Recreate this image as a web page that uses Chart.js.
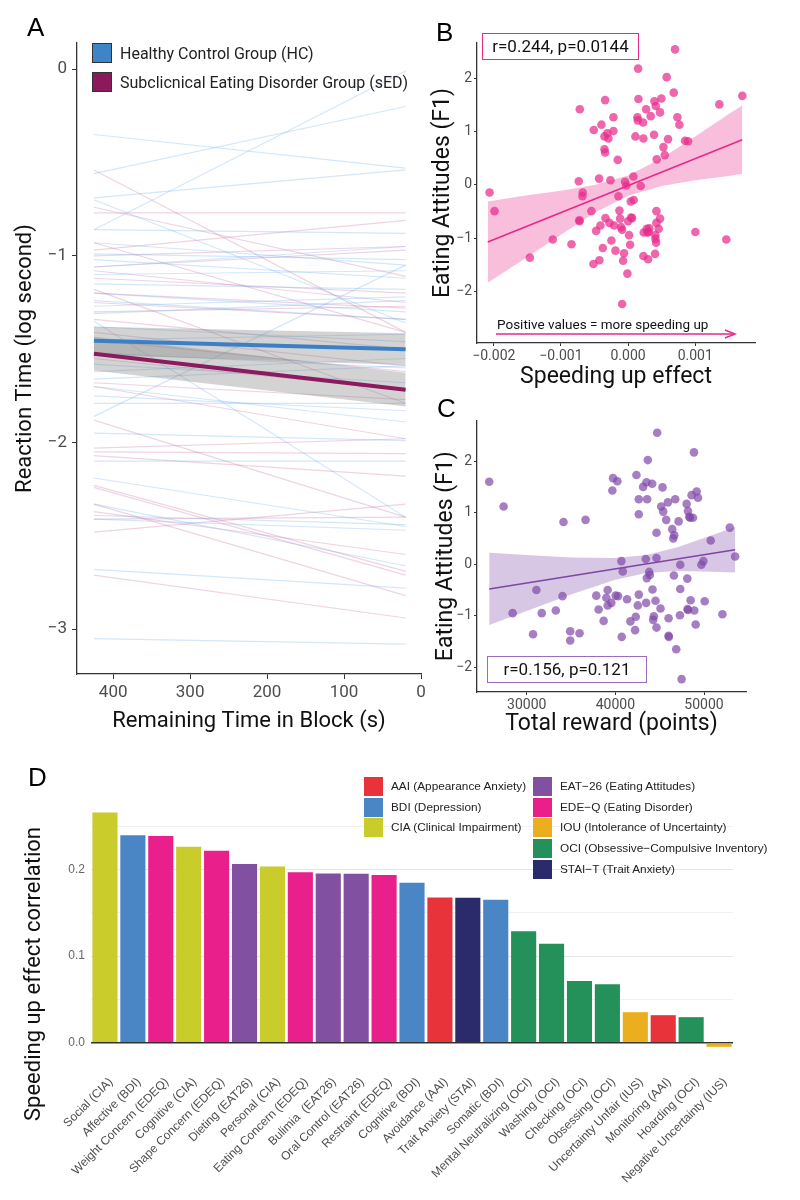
<!DOCTYPE html>
<html>
<head>
<meta charset="utf-8">
<script src="https://cdn.jsdelivr.net/npm/chart.js@4.4.1/dist/chart.umd.min.js"></script>
<style>
    body { margin: 0; background: #fff; width: 800px; height: 1200px; position: relative; overflow: hidden; font-family: Roboto, sans-serif; }
    canvas { position: absolute; }
    .panel { position: absolute; font-family: "Liberation Sans", Arial, sans-serif; font-size: 26px; color: #000; }
    .legA { position: absolute; left: 92px; font-size: 16px; color: #222; }
    .legA span { display: inline-block; width: 18px; height: 18px; border: 1px solid #333; vertical-align: -4px; margin-right: 8px; }
    .statbox { position: absolute; font-size: 17px; color: #111; text-align: center; line-height: 24px; box-sizing: border-box; }
    .legD { position: absolute; font-family: "Liberation Sans", Arial, sans-serif; font-size: 11.8px; color: #222; line-height: 19px; }
    .legD span { display: inline-block; width: 19px; height: 19px; vertical-align: top; margin-right: 8px; }
    .ytitle { position: absolute; font-size: 22px; color: #111; white-space: nowrap; transform: translate(-50%, -50%) rotate(-90deg); }
</style>
</head>
<body>
<canvas id="chartA" width="440" height="745" style="left:0;top:0"></canvas>
<canvas id="chartB" width="380" height="400" style="left:420px;top:0"></canvas>
<canvas id="chartC" width="380" height="330" style="left:420px;top:410px"></canvas>
<canvas id="chartD" width="800" height="440" style="left:0;top:760px"></canvas>

<div class="panel" style="left:27px;top:12px">A</div>
<div class="panel" style="left:436px;top:17px">B</div>
<div class="panel" style="left:437px;top:393px">C</div>
<div class="panel" style="left:28px;top:762px">D</div>

<div class="legA" style="top:43px"><span style="background:#3d85c6"></span>Healthy Control Group (HC)</div>
<div class="legA" style="top:72px"><span style="background:#8b1a5c"></span>Subclicnical Eating Disorder Group (sED)</div>

<div class="statbox" style="left:482px;top:33px;width:157px;height:27px;border:1.5px solid #e7298a">r=0.244, p=0.0144</div>
<div style="position:absolute;left:497px;top:316px;font-size:13.5px;color:#111">Positive values = more speeding up</div>
<svg style="position:absolute;left:494px;top:328px" width="246" height="12">
    <line x1="2" y1="6" x2="240" y2="6" stroke="#e7298a" stroke-width="1.5"/>
    <polyline points="231,2 241,6 231,10" fill="none" stroke="#e7298a" stroke-width="1.5"/>
</svg>
<div class="statbox" style="left:487px;top:656px;width:160px;height:27px;border:1.5px solid #9c6bbf">r=0.156, p=0.121</div>

<div class="ytitle" style="left:32px;top:974px">Speeding up effect correlation</div>
<div id="legendD"></div>

<script>
// ---------- Panel A: individual slopes (start at 425 s, end at 20 s) ----------
const lineX = [425, 20];
const hcStart = [-0.35, -0.86, -0.56, -0.69, -0.70, -0.86, -0.99, -1.06, -1.15, -1.24, -1.31, -1.66,
    -0.93, -1.02, -1.10, -1.20, -1.27, -1.38, -1.45, -1.52, -1.58, -1.62, -1.75,
    -1.86, -1.95, -2.10, -1.35, -2.19, -2.41, -2.39, -2.68, -3.05, -1.70, -1.79, -2.33];
const hcEnd = [-0.53, -0.01, -0.20, -0.54, -1.36, -0.88, -1.02, -0.95, -1.18, -1.34, -1.24, -1.59,
    -1.05, -1.12, -1.08, -1.30, -1.22, -1.46, -1.42, -1.60, -1.68, -1.55, -1.83,
    -1.05, -1.99, -2.10, -2.40, -2.45, -2.47, -2.44, -2.78, -3.08, -1.89, -1.79, -2.66];
const sedStart = [-0.54, -0.74, -0.77, -0.93, -0.97, -1.06, -1.12, -1.20, -1.25, -1.34, -1.68, -1.41, -1.18,
    -1.00, -1.08, -1.30, -1.45, -1.55,
    -1.88, -2.03, -2.05, -2.07, -2.23, -2.24, -2.33, -2.37, -2.48, -2.71, -2.41, -1.70];
const sedEnd = [-1.41, -1.11, -0.77, -1.41, -0.81, -0.97, -1.20, -1.28, -1.34, -1.50, -1.77, -1.59, -1.79,
    -0.95, -1.25, -1.27, -1.62, -1.72,
    -2.40, -1.98, -2.06, -2.18, -2.69, -2.71, -2.82, -2.60, -2.33, -2.94, -2.40, -1.98];

// group means and confidence bands [start, end]
const hcMean = [-1.455, -1.50];
const hcUpper = [-1.38, -1.415];
const hcLower = [-1.53, -1.585];
const sedMean = [-1.524, -1.717];
const sedUpper = [-1.434, -1.627];
const sedLower = [-1.614, -1.807];

const aTicksX = [0, 100, 200, 300, 400];
const aTicksY = [-3, -2, -1, 0];

// ---------- Panel B: speeding up effect vs eating attitudes ----------
const speedX = [-0.002063, -0.001989, -0.001463, -0.001121, -0.000843, -0.000734, -0.000719, -0.000675, -0.000680, -0.000724,
    -0.000724, -0.000546, -0.000511, -0.000516, -0.000476, -0.000427, -0.000432, -0.000412, -0.000397, -0.000377,
    -0.000342, -0.000352, -0.000352, -0.000342, -0.000337, -0.000308, -0.000293, -0.000278, -0.000263, -0.000248,
    -0.000218, -0.000218, -0.000208, -0.000188, -0.000154, -0.000144, -0.000129, -0.000119, -0.000104, -0.000089,
    -0.000089, -0.000074, -0.000060, -0.000045, -0.000025, -0.000010, 0.000000, 0.000015, 0.000030, 0.000040,
    0.000045, 0.000060, 0.000079, 0.000084, 0.000109, 0.000139, 0.000144, 0.000149, 0.000154, 0.000188,
    0.000223, 0.000228, 0.000233, 0.000228, 0.000268, 0.000278, 0.000288, 0.000298, 0.000308, 0.000317,
    0.000337, 0.000387, 0.000392, 0.000407, 0.000407, 0.000402, 0.000412, 0.000417, 0.000422, 0.000422,
    0.000427, 0.000456, 0.000476, 0.000476, 0.000496, 0.000526, 0.000546, 0.000575, 0.000595, 0.000680,
    0.000699, 0.000734, 0.000764, 0.000848, 0.000893, 0.001002, 0.001359, 0.001463, 0.001701];
const eatB = [-0.14, -0.49, -1.36, -1.02, -1.11, 0.07, 1.42, -0.14, -0.21, -0.66,
    -0.68, -0.49, 1.03, -1.48, -0.86, -1.41, 0.12, -0.76, 1.13, -1.18,
    1.59, 0.91, 0.67, 0.61, -0.62, 0.97, 0.87, -0.71, 0.09, -1.04,
    1.27, 1.01, -0.76, -1.23, 0.47, -0.21, -0.48, -0.63, -0.79, -0.84,
    -2.23, -1.42, -1.28, 0.06, -0.01, -1.66, -0.68, -0.94, -1.12, -0.31,
    -0.61, -0.62, 0.16, -0.28, 0.91, 1.27, 1.21, 2.18, 1.61, -0.02,
    1.17, 0.87, -0.89, -1.33, 1.42, -0.82, -0.89, -1.39, -0.88, -0.81,
    1.29, 0.94, 1.57, -0.94, -1.01, -1.29, 1.48, -1.08, -0.49, -0.71,
    0.48, -0.82, 1.36, -0.63, 1.62, 0.71, 0.56, 2.02, 0.86, 1.73,
    2.54, 1.27, 1.13, 0.83, 0.82, -0.88, 1.51, -1.02, 1.67];
const fitBX = [-0.00209, 0.0017];
const fitBY = [-1.066, 0.849];
const bandBX = [-0.00209, -0.0015, -0.001, -0.0005, 0, 0.0005, 0.001, 0.0015, 0.0017];
const bandBUpper = [-0.31, -0.19, -0.11, 0.00, 0.18, 0.50, 0.91, 1.33, 1.49];
const bandBLower = [-1.83, -1.35, -0.93, -0.52, -0.20, -0.02, 0.09, 0.17, 0.21];
const bTicksX = [-0.002, -0.001, 0, 0.001];
const bTicksY = [-2, -1, 0, 1, 2];

// ---------- Panel C: total reward vs eating attitudes ----------
const rewardX = [25773, 27396, 28415, 30717, 31094, 31698, 33283, 34038, 34151, 34906,
    34906, 35963, 36642, 37850, 38114, 38680, 39133, 38982, 39133, 39548,
    39661, 39737, 40038, 40227, 40302, 40680, 40718, 40831, 41322, 41699,
    42228, 42303, 42379, 42530, 42643, 42643, 42643, 43134, 43435, 43473,
    43511, 43548, 43586, 43662, 43813, 43888, 44152, 44190, 44265, 44341,
    44530, 44643, 44643, 44643, 44718, 45096, 45171, 45322, 45398, 45737,
    45926, 46002, 46002, 46039, 46417, 46530, 46643, 46606, 46756, 46869,
    47134, 47285, 47322, 47322, 48039, 48115, 48153, 48190, 48190, 48341,
    48417, 48492, 48605, 48756, 48870, 48907, 49058, 49172, 49323, 49700,
    49926, 50077, 50757, 52078, 52908, 53512, 47473];
const eatC = [1.60, 1.12, -0.95, -1.36, -0.50, -0.95, -0.90, -0.62, 0.82, -1.30,
    -1.48, -1.34, 0.86, -0.61, -0.88, -1.10, -0.50, -0.65, -0.80, -0.75,
    1.43, 1.67, -0.61, 1.61, -0.62, 0.06, -1.41, -0.14, -0.68, -1.11,
    -1.28, -1.02, 1.73, -0.80, -0.59, 0.97, 1.26, 1.50, 0.10, -0.75,
    1.59, -0.27, 1.26, 2.02, -0.15, -0.21, 1.56, -0.49, -1.08, -1.01,
    -0.71, 0.12, -1.23, 0.61, 2.55, -0.86, 1.12, 1.49, 1.02, 0.86,
    1.20, -1.05, -1.39, -1.41, 0.68, 0.50, 0.56, -0.22, 1.26, -1.65,
    0.83, -0.99, -0.01, -0.48, 1.17, -0.28, -0.87, -0.89, 1.03, 0.92,
    0.90, -0.70, 1.34, 0.90, 2.17, -0.90, -1.17, 1.41, 1.29, -0.01,
    0.06, -0.72, 0.46, -0.97, 0.71, 0.15, -2.23];
const fitCX = [25773, 53512];
const fitCY = [-0.48, 0.28];
const bandCX = [25773, 30000, 35000, 40000, 43500, 47000, 50000, 53512];
const bandCUpper = [0.22, 0.18, 0.13, 0.12, 0.18, 0.33, 0.51, 0.72];
const bandCLower = [-1.18, -0.91, -0.59, -0.30, -0.17, -0.13, -0.14, -0.16];
const cTicksX = [30000, 40000, 50000];
const cTicksY = [-2, -1, 0, 1, 2];

// ---------- Panel D: correlations per subscale ----------
const dLabels = ['Social (CIA)', 'Affective (BDI)', 'Weight Concern (EDEQ)', 'Cognitive (CIA)', 'Shape Concern (EDEQ)',
    'Dieting (EAT26)', 'Personal (CIA)', 'Eating Concern (EDEQ)', 'Bulimia  (EAT26)', 'Oral Control (EAT26)',
    'Restraint (EDEQ)', 'Cognitive (BDI)', 'Avoidance (AAI)', 'Trait Anxiety (STAI)', 'Somatic (BDI)',
    'Mental Neutralizing (OCI)', 'Washing (OCI)', 'Checking (OCI)', 'Obsessing (OCI)', 'Uncertainty Unfair (IUS)',
    'Monitoring (AAI)', 'Hoarding (OCI)', 'Negative Uncertainty (IUS)'];
const dValues = [0.2658, 0.2396, 0.2385, 0.2262, 0.2215, 0.2062, 0.2035, 0.1969, 0.1954, 0.1950,
    0.1935, 0.1846, 0.1677, 0.1673, 0.1650, 0.1288, 0.1142, 0.0712, 0.0677, 0.0354,
    0.0319, 0.0296, -0.0046];
const dGroups = ['CIA', 'BDI', 'EDEQ', 'CIA', 'EDEQ', 'EAT26', 'CIA', 'EDEQ', 'EAT26', 'EAT26',
    'EDEQ', 'BDI', 'AAI', 'STAI', 'BDI', 'OCI', 'OCI', 'OCI', 'OCI', 'IUS',
    'AAI', 'OCI', 'IUS'];
const dTicksY = [0, 0.05, 0.1, 0.15, 0.2, 0.25];
const legendNames = ['AAI (Appearance Anxiety)', 'BDI (Depression)', 'CIA (Clinical Impairment)',
    'EAT\u221226 (Eating Attitudes)', 'EDE\u2212Q (Eating Disorder)', 'IOU (Intolerance of Uncertainty)',
    'OCI (Obsessive\u2212Compulsive Inventory)', 'STAI\u2212T (Trait Anxiety)'];
const legendKeys = ['AAI', 'BDI', 'CIA', 'EAT26', 'EDEQ', 'IUS', 'OCI', 'STAI'];

const groupColors = {
    AAI: '#e8333b', BDI: '#4a86c6', CIA: '#c9cc2b', EAT26: '#8250a0',
    EDEQ: '#e91f8c', IUS: '#ebae1e', OCI: '#24905a', STAI: '#2b2a6b'
};

Chart.defaults.font.family = 'Roboto, sans-serif';
Chart.defaults.animation = false;
Chart.defaults.events = [];
Chart.defaults.plugins.legend.display = false;
Chart.defaults.plugins.tooltip.enabled = false;

// Replace hyphen with a proper minus sign
function minus(s) {
    return String(s).replace('-', '\u2212');
}

function setTicks(values) {
    return scale => { scale.ticks = values.map(v => ({ value: v })); };
}

function pts(xs, ys) {
    return xs.map((x, i) => ({ x, y: ys[i] }));
}

// Classic ggplot-like axis (line + short outside ticks)
function classicAxis(extra, tickSize, tickLen, pad) {
    return Object.assign({
        type: 'linear',
        grid: { drawOnChartArea: false, color: '#333', tickLength: tickLen },
        border: { color: '#333', width: 1.3 },
        ticks: { color: '#4d4d4d', font: { size: tickSize }, padding: pad, callback: v => minus(v) }
    }, extra);
}

function drawPanelA() {
    const datasets = [];
    datasets.push({ data: pts(lineX, hcMean), borderColor: '#3b80c6', borderWidth: 4, order: 0 });
    datasets.push({ data: pts(lineX, sedMean), borderColor: '#8b1a5e', borderWidth: 4, order: 0 });
    datasets.push({ data: pts(lineX, hcUpper), borderColor: 'transparent', fill: '+1', backgroundColor: 'rgba(130,130,130,0.35)', order: 1 });
    datasets.push({ data: pts(lineX, hcLower), borderColor: 'transparent', order: 1 });
    datasets.push({ data: pts(lineX, sedUpper), borderColor: 'transparent', fill: '+1', backgroundColor: 'rgba(130,130,130,0.35)', order: 1 });
    datasets.push({ data: pts(lineX, sedLower), borderColor: 'transparent', order: 1 });
    hcStart.forEach((s, i) => {
        datasets.push({ data: pts(lineX, [s, hcEnd[i]]), borderColor: 'rgba(110,175,235,0.3)', borderWidth: 1.2, order: 2 });
    });
    sedStart.forEach((s, i) => {
        datasets.push({ data: pts(lineX, [s, sedEnd[i]]), borderColor: 'rgba(195,100,155,0.28)', borderWidth: 1.2, order: 2 });
    });

    new Chart(document.getElementById('chartA'), {
        type: 'line',
        data: { datasets },
        options: {
            responsive: false,
            elements: { point: { radius: 0 } },
            layout: { padding: { left: 0, top: 43, right: 19, bottom: 0 } },
            scales: {
                x: classicAxis({
                    reverse: true, min: 0, max: 447,
                    afterBuildTicks: setTicks(aTicksX),
                    afterFit: s => { s.height = 71; },
                    title: { display: true, text: 'Remaining Time in Block (s)', color: '#111', font: { size: 22 }, padding: { top: 0, bottom: 10 } }
                }, 17, 5, 4),
                y: classicAxis({
                    min: -3.24, max: 0.14,
                    afterBuildTicks: setTicks(aTicksY),
                    afterFit: s => { s.width = 77; },
                    title: { display: true, text: 'Reaction Time (log second)', color: '#111', font: { size: 22 }, padding: { top: 12, bottom: 0 } }
                }, 17, 5, 5)
            }
        }
    });
}

function drawScatter(id, cfg) {
    new Chart(document.getElementById(id), {
        type: 'scatter',
        data: {
            datasets: [
                { data: pts(cfg.x, cfg.y), backgroundColor: cfg.pointColor, pointRadius: 4.3, borderWidth: 0, order: 0 },
                { data: pts(cfg.fitX, cfg.fitY), showLine: true, borderColor: cfg.lineColor, borderWidth: 1.6, pointRadius: 0, order: 1 },
                { data: pts(cfg.bandX, cfg.bandUpper), showLine: true, borderColor: 'transparent', pointRadius: 0, fill: '+1', backgroundColor: cfg.bandColor, order: 2 },
                { data: pts(cfg.bandX, cfg.bandLower), showLine: true, borderColor: 'transparent', pointRadius: 0, order: 2 }
            ]
        },
        options: {
            responsive: false,
            layout: { padding: cfg.padding },
            scales: {
                x: classicAxis({
                    min: cfg.xMin, max: cfg.xMax,
                    afterBuildTicks: setTicks(cfg.ticksX),
                    afterFit: s => { s.height = cfg.xHeight; },
                    ticks: { color: '#4d4d4d', font: { size: 14 }, padding: 2, callback: cfg.fmtX },
                    title: { display: true, text: cfg.xTitle, color: '#111', font: { size: 23 }, padding: { top: 0, bottom: cfg.xTitlePad } }
                }, 14, 3, 2),
                y: classicAxis({
                    min: cfg.yMin, max: cfg.yMax,
                    afterBuildTicks: setTicks(cfg.ticksY),
                    afterFit: s => { s.width = 57; },
                    title: { display: true, text: 'Eating Attitudes (F1)', color: '#111', font: { size: 23 }, padding: { top: cfg.yTitlePad, bottom: 0 } }
                }, 14, 3, 2)
            }
        }
    });
}

function drawPanelD() {
    new Chart(document.getElementById('chartD'), {
        type: 'bar',
        data: {
            labels: dLabels,
            datasets: [{
                data: dValues,
                backgroundColor: dGroups.map(g => groupColors[g]),
                barPercentage: 0.9,
                categoryPercentage: 1.0
            }]
        },
        options: {
            responsive: false,
            layout: { padding: { left: 0, top: 41, right: 67, bottom: 0 } },
            scales: {
                x: {
                    grid: { display: false },
                    border: { display: false },
                    afterFit: s => { s.height = 142; },
                    ticks: {
                        color: '#4d4d4d', font: { size: 12, family: '"Liberation Sans", Arial, sans-serif' },
                        minRotation: 45, maxRotation: 45, autoSkip: false, padding: 9, labelOffset: 6
                    }
                },
                y: {
                    min: -0.0175, max: 0.279,
                    afterBuildTicks: setTicks(dTicksY),
                    afterFit: s => { s.width = 91; },
                    border: { display: false },
                    grid: {
                        drawTicks: false,
                        color: c => c.tick.value === 0 ? '#333' : ([0.1, 0.2].includes(c.tick.value) ? '#e6e6e6' : '#f2f2f2'),
                        lineWidth: c => c.tick.value === 0 ? 1.5 : 1
                    },
                    ticks: {
                        color: '#666', font: { size: 12, family: '"Liberation Sans", Arial, sans-serif' }, padding: 6,
                        callback: v => ([0, 0.1, 0.2].includes(v) ? v.toFixed(1) : '')
                    }
                }
            }
        }
    });

    // legend in two columns
    const box = document.getElementById('legendD');
    legendNames.forEach((name, i) => {
        const col = i < 3 ? 0 : 1;
        const row = i < 3 ? i : i - 3;
        const div = document.createElement('div');
        div.className = 'legD';
        div.style.left = (col === 0 ? 364 : 533) + 'px';
        div.style.top = (777 + row * 20.7) + 'px';
        div.innerHTML = '<span style="background:' + groupColors[legendKeys[i]] + '"></span>' + name;
        box.appendChild(div);
    });
}

drawPanelA();

drawScatter('chartB', {
    x: speedX, y: eatB, fitX: fitBX, fitY: fitBY,
    bandX: bandBX, bandUpper: bandBUpper, bandLower: bandBLower,
    pointColor: 'rgba(231,45,140,0.72)', lineColor: '#e7298a', bandColor: 'rgba(231,41,138,0.3)',
    padding: { left: 0, top: 43, right: 45, bottom: 0 },
    xMin: -0.00225, xMax: 0.00189, yMin: -2.96, yMax: 2.66,
    ticksX: bTicksX, ticksY: bTicksY, xHeight: 57,
    fmtX: v => minus(v.toFixed(3)),
    xTitle: 'Speeding up effect', xTitlePad: 9, yTitlePad: 9
});

drawScatter('chartC', {
    x: rewardX, y: eatC, fitX: fitCX, fitY: fitCY,
    bandX: bandCX, bandUpper: bandCUpper, bandLower: bandCLower,
    pointColor: 'rgba(128,72,168,0.7)', lineColor: '#7d46a5', bandColor: 'rgba(125,70,165,0.3)',
    padding: { left: 0, top: 10, right: 54, bottom: 0 },
    xMin: 24395, xMax: 54737, yMin: -2.48, yMax: 2.79,
    ticksX: cTicksX, ticksY: cTicksY, xHeight: 48,
    fmtX: v => String(v),
    xTitle: 'Total reward (points)', xTitlePad: 2, yTitlePad: 12
});

drawPanelD();
</script>
</body>
</html>
